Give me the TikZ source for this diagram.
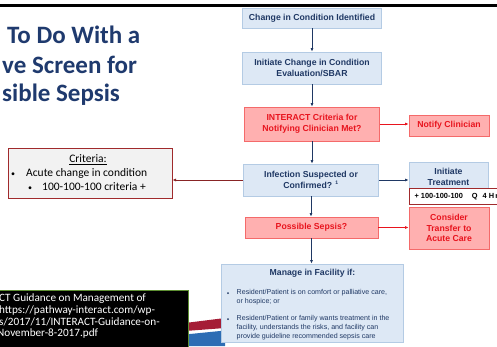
\documentclass[tikz,border=0pt]{standalone}
\usepackage{fontspec}
\setmainfont{Liberation Sans}
\newfontfamily\carlito{Carlito}
\usetikzlibrary{arrows.meta,calc}
\definecolor{navy}{HTML}{1F3864}
\definecolor{bfill}{HTML}{DDE8F5}
\definecolor{bdraw}{HTML}{B4CBE4}
\definecolor{rfill}{HTML}{FFB0B0}
\definecolor{rdraw}{HTML}{F46A6A}
\definecolor{rtext}{HTML}{E8141E}
\definecolor{dred}{HTML}{A02A2C}
\definecolor{titlec}{HTML}{1F3A6E}
\definecolor{swred}{HTML}{A51D36}
\definecolor{swblue}{HTML}{2E6DB4}
\definecolor{gbox}{HTML}{F2F2F2}
\definecolor{gborder}{HTML}{5E8F32}
\tikzset{
  base/.style={line width=0.8pt, inner sep=0pt, align=center, font=\bfseries\fontsize{8.7}{10.5}\selectfont},
  bluebox/.style={base, draw=bdraw, fill=bfill, text=navy},
  redbox/.style={base, draw=rdraw, fill=rfill, text=rtext},
  navyarrow/.style={draw=navy, line width=0.9pt, -{Latex[length=3.5pt,width=3pt]}},
  redarrow/.style={draw=rtext, line width=0.9pt, -{Latex[length=3.5pt,width=3pt]}},
  darrow/.style={draw=dred!85!black, line width=1pt, -{Latex[length=3.5pt,width=3pt]}},
  small/.style={inner sep=0pt, text=navy, align=left, font=\fontsize{7.1}{9}\selectfont},
  crittext/.style={inner sep=0pt, font=\carlito\fontsize{11.5}{13}\selectfont},
  blacktext/.style={inner sep=0pt, anchor=west, text=white, font=\carlito\fontsize{11.2}{12}\selectfont},
  titletext/.style={inner sep=0pt, anchor=base west, text=titlec, font=\carlito\bfseries\fontsize{25}{28}\selectfont},
}
\begin{document}
\begin{tikzpicture}[x=1pt,y=-1pt]
\clip (0,0) rectangle (497,346);
\fill[white] (0,0) rectangle (497,346);
% top rule
\draw[line width=2.5pt] (0,5.5) -- (497,5.5);
% title
\node[titletext] (t1) at (7,43) {To Do With a};
\node[titletext] (t2) at (2,73) {ve Screen for};
\node[titletext] (t3) at (2,101) {sible Sepsis};
% decorative swoosh
\fill[swred] (185,323) -- (225,318) -- (225,328) -- (185,331) -- cycle;
\fill[swblue] (185,334.5) -- (225,330.5) -- (225,346) -- (185,346) -- cycle;
% main column
\node[bluebox, minimum width=139, minimum height=20] (c1) at (312,18) {Change in Condition Identified};
\node[bluebox, minimum width=139, minimum height=32] (c2) at (312,68) {Initiate Change in Condition\\Evaluation/SBAR};
\node[redbox, minimum width=135, minimum height=34] (int) at (312,124) {INTERACT Criteria for\\Notifying Clinician Met?};
\node[redbox, minimum width=80, minimum height=21] (notify) at (449,125.5) {Notify Clinician};
\node[bluebox, minimum width=135, minimum height=32] (inf) at (311,180) {Infection Suspected or\\Confirmed? \textsuperscript{\fontsize{5}{5}\selectfont 1}};
\node[bluebox, minimum width=79, minimum height=30] (init) at (448.5,177) {Initiate\\Treatment};
\node[base, draw=dred, fill=white, text=black, minimum width=96, minimum height=16, anchor=north west, font=\bfseries\fontsize{7.4}{8}\selectfont] (hund) at (409,188) {\hspace*{-2pt}+ 100-100-100\hspace{9pt}Q\hspace{5pt}4 H\,r};
\node[redbox, minimum width=133, minimum height=21] (poss) at (311.5,227.5) {Possible Sepsis?};
\node[redbox, minimum width=80, minimum height=42] (cons) at (449,228) {Consider\\Transfer to\\Acute Care};
\node[bluebox, minimum width=182, minimum height=78] (man) at (312,303) {};
\node[base, text=navy, anchor=center] (mant) at (312.5,273) {Manage in Facility if:};
\fill[navy] (228,293) circle (1);
\fill[navy] (228,319) circle (1);
\node[small, anchor=west] (mb1) at (236.5,297.5) {Resident/Patient is on comfort or palliative care,\\or hospice; or};
\node[small, anchor=west] (mb2) at (236.5,328) {Resident/Patient or family wants treatment in the\\facility, understands the risks, and facility can\\provide guideline recommended sepsis care};
% criteria box
\node[draw=dred, fill=gbox, line width=1pt, minimum width=164, minimum height=50, inner sep=0pt] (crit) at (90,173) {};
\node[crittext] (critt) at (88,160) {\underline{Criteria:}};
\node[crittext, anchor=west] (crit1) at (11,173.5) {\makebox[15pt][l]{\fontsize{8}{8}\selectfont•}Acute change in condition};
\node[crittext, anchor=west] (crit2) at (28,187) {\makebox[14pt][l]{\fontsize{8}{8}\selectfont•}100-100-100 criteria +};
% black box
\node[draw=gborder, fill=black, line width=1pt, minimum width=200, minimum height=62, anchor=north east, inner sep=0pt] (blk) at (189,290) {};
\node[blacktext] (bl1) at (-1,299) {CT Guidance on Management of};
\node[blacktext] (bl2) at (-1,310.5) {https://pathway-interact.com/wp-};
\node[blacktext] (bl3) at (-1,322) {s/2017/11/INTERACT-Guidance-on-};
\node[blacktext] (bl4) at (-3,333.5) {November-8-2017.pdf};
% arrows
\draw[navyarrow] (c1.south) -- (c1.south |- c2.north);
\draw[navyarrow] (c2.south) -- (c2.south |- int.north);
\draw[navyarrow] (int.south) -- (int.south |- inf.north);
\draw[navyarrow] (inf.south) -- (inf.south |- poss.north);
\draw[navyarrow] (poss.south) -- (poss.south |- man.north);
\draw[redarrow] (int.east) -- (int.east -| notify.west);
\draw[navyarrow] (inf.east) -- (inf.east -| init.west);
\draw[redarrow] (poss.east) -- (poss.east -| cons.west);
\draw[darrow] (inf.west) -- (inf.west -| crit.east);
\end{tikzpicture}
\end{document}
